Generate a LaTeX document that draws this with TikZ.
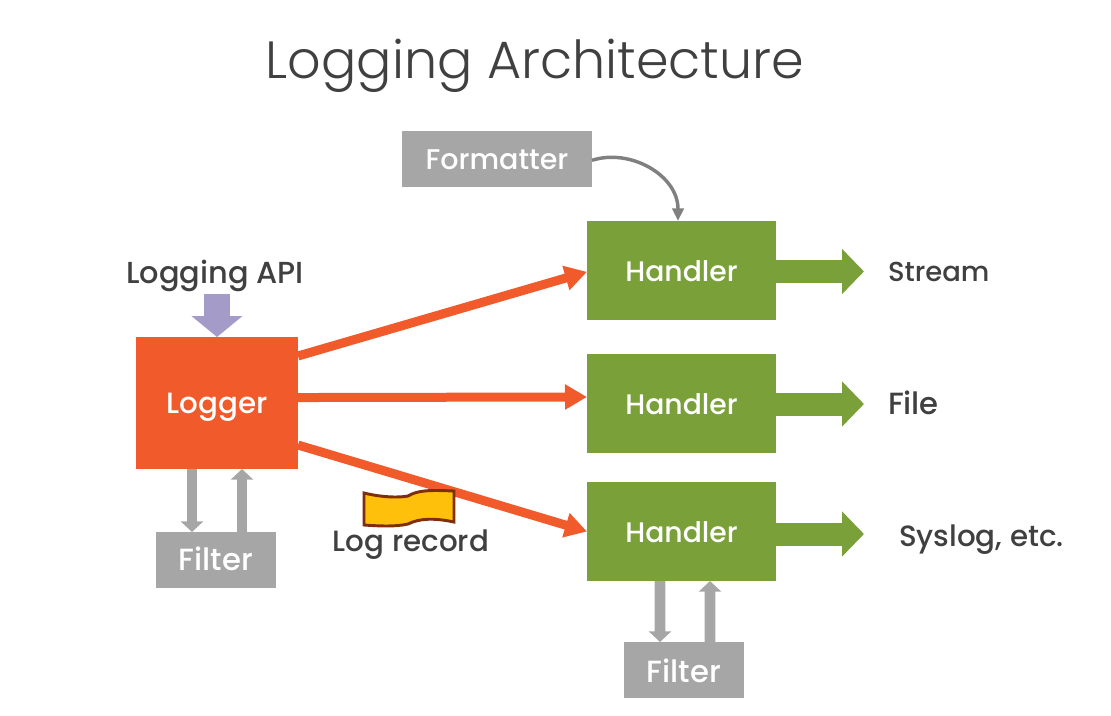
\documentclass[tikz,border=0pt]{standalone}
\usepackage{fontspec}
\setmainfont{Poppins}
\newfontfamily\titlefont{Poppins Light}
\newfontfamily\labelfont{Poppins Medium}
\usetikzlibrary{arrows.meta}
\definecolor{loggerorange}{HTML}{F15A2B}
\definecolor{handlergreen}{HTML}{7AA03A}
\definecolor{filtergray}{HTML}{A6A6A6}
\definecolor{apipurple}{HTML}{A49BC8}
\definecolor{labeltext}{HTML}{404040}
\definecolor{recordyellow}{HTML}{FFC00C}
\definecolor{recordbrown}{HTML}{7F2E0C}
\tikzset{
  box/.style={inner sep=0pt, outer sep=0pt, text=white, text height=16pt, text depth=0pt, font=\labelfont\fontsize{22}{26}\selectfont},
  loggerbox/.style={box, fill=loggerorange, minimum width=121.5pt, minimum height=99pt},
  handlerbox/.style={box, fill=handlergreen, minimum width=141.75pt, minimum height=74.25pt, font=\labelfont\fontsize{21.2}{26}\selectfont},
  grayfilter/.style={box, fill=filtergray, minimum width=90pt, minimum height=42pt, font=\labelfont\fontsize{23}{26}\selectfont},
  lbl/.style={inner sep=0pt, outer sep=0pt, text=labeltext, text height=16pt, text depth=0pt, font=\labelfont\fontsize{22}{26}\selectfont},
  redarrow/.style={draw=loggerorange, line width=6.75pt, -{Triangle[length=16.5pt,width=18pt]}},
  greenarrow/.style={draw=handlergreen, line width=17.25pt, -{Triangle[length=16.5pt,width=33pt]}},
  grayarrow/.style={draw=filtergray, line width=8pt, -{Triangle[length=8pt,width=16.5pt]}},
  apiarrow/.style={draw=apipurple, line width=19.5pt, -{Triangle[length=15.75pt,width=37.5pt]}},
  curvearrow/.style={draw=black!50, line width=2.6pt, -{Triangle[length=9.5pt,width=8.5pt]}}
}
\begin{document}
\begin{tikzpicture}[x=0.75pt,y=-0.75pt]
\useasboundingbox (0,0) rectangle (1111,715);
\node (title) at (535,66) [text=labeltext, font=\titlefont\fontsize{39.3}{47}\selectfont] {Logging Architecture};
\node (logger) at (217,403) [loggerbox] {Logger};
\node (formatter) at (497,159) [grayfilter, minimum width=142.5pt, font=\labelfont\fontsize{21.4}{26}\selectfont] {Formatter};
\node (handlerone) at (681.5,270.5) [handlerbox] {Handler};
\node (handlertwo) at (681.5,403.5) [handlerbox] {Handler};
\node (handlerthree) at (681.5,531.5) [handlerbox] {Handler};
\node (filterone) at (216,560) [grayfilter] {Filter};
\node (filtertwo) at (684,670) [grayfilter, text height=19pt] {Filter};
\node (api) at (215,272.6) [lbl, font=\labelfont\fontsize{22.8}{26}\selectfont] {Logging API};
\node (stream) at (888,271) [lbl, anchor=west, font=\labelfont\fontsize{20.6}{26}\selectfont] {Stream};
\node (file) at (888,404) [lbl, anchor=west, font=\labelfont\fontsize{23}{26}\selectfont] {File};
\node (syslog) at (899,535.5) [lbl, anchor=west] {Syslog, etc.};
\node (record) at (411,541) [lbl] {Log record};
\coordinate (apitop) at (217,294);
\coordinate (streamtip) at (864,271.5);
\coordinate (filetip) at (864,404);
\coordinate (syslogtip) at (864,534);
\draw [apiarrow] (apitop) -- (logger.north);
\draw [redarrow] ([yshift=35.25pt]logger.east) -- ([yshift=-1pt]handlerone.west);
\draw [redarrow] ([yshift=4.1pt]logger.east) -- ([yshift=4.9pt]handlertwo.west);
\draw [redarrow] ([yshift=-31.5pt]logger.east) -- (handlerthree.west);
\draw [greenarrow] (handlerone.east |- streamtip) -- (streamtip);
\draw [greenarrow] (handlertwo.east |- filetip) -- (filetip);
\draw [greenarrow] (handlerthree.east |- syslogtip) -- (syslogtip);
\draw [grayarrow] ([xshift=-18.75pt]logger.south) -- ([xshift=-18pt]filterone.north);
\draw [grayarrow] ([xshift=19.5pt]filterone.north) -- ([xshift=18.75pt]logger.south);
\draw [grayarrow] ([xshift=-16.1pt]handlerthree.south) -- ([xshift=-18pt]filtertwo.north);
\draw [grayarrow] ([xshift=19.5pt]filtertwo.north) -- ([xshift=21.4pt]handlerthree.south);
\draw [curvearrow] ([yshift=-1pt]formatter.east) .. controls (630,148) and (678,175) .. ([xshift=-2.6pt]handlerone.north);
\draw [fill=recordyellow, draw=recordbrown, line width=2.2pt] (364,493) .. controls (380,497) and (398,498) .. (408,496) .. controls (418,490) and (430,490) .. (454,491) -- (454,522) .. controls (435,518) and (420,518) .. (408,524) .. controls (395,527) and (378,526) .. (364,525) -- cycle;
\end{tikzpicture}
\end{document}
